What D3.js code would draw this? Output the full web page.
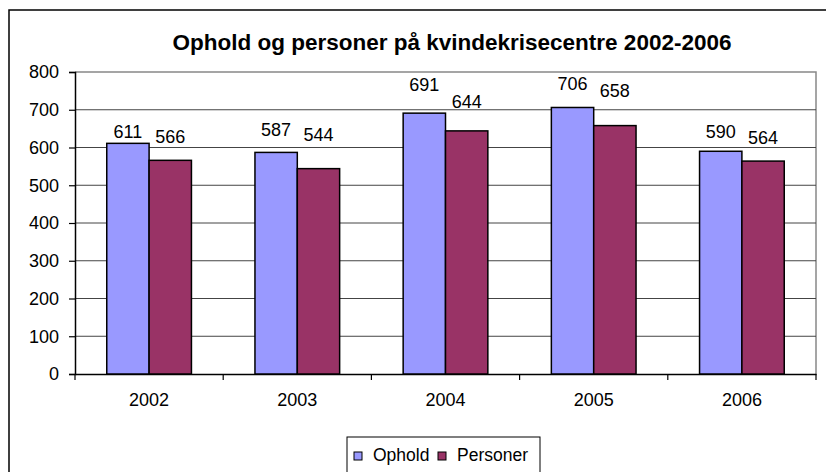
<!DOCTYPE html>
<html>
<head>
<meta charset="utf-8">
<script src="https://cdn.jsdelivr.net/npm/d3@7"></script>
<style>
  body { margin: 0; background: #fff; }
  svg text { font-family: "Liberation Sans", Arial, sans-serif; fill: #000; }
</style>
</head>
<body>
<div id="chart"></div>
<script>
// data
var years = ["2002", "2003", "2004", "2005", "2006"];
var seriesNames = ["Ophold", "Personer"];
var ophold = [611, 587, 691, 706, 590];
var personer = [566, 544, 644, 658, 564];
var yTicks = [0, 100, 200, 300, 400, 500, 600, 700, 800];
var colors = ["#9999ff", "#993366"];

// how far each value label sits above its bar (px), as placed in the original
var labelLift = [[12, 24], [23, 34], [29, 29], [24, 35], [20, 24]];

var width = 826, height = 472;
var plot = {left: 75, right: 816, top: 72, bottom: 374};

var svg = d3.select("#chart")
  .append("svg")
  .attr("width", width)
  .attr("height", height);

// outer frame
svg.append("rect")
  .attr("x", 9).attr("y", 10)
  .attr("width", 830).attr("height", 480)
  .attr("fill", "#fff")
  .attr("stroke", "#000")
  .attr("stroke-width", 1.5);

// title
svg.append("text")
  .attr("x", 452).attr("y", 50)
  .attr("text-anchor", "middle")
  .style("font-size", "22.5px")
  .style("font-weight", "bold")
  .text("Ophold og personer på kvindekrisecentre 2002-2006");

var x = d3.scaleBand()
  .domain(years)
  .range([plot.left, plot.right]);

var w = x.bandwidth() / 3.5;

var y = d3.scaleLinear()
  .domain([0, 800])
  .range([plot.bottom, plot.top]);

// plot area border (top/right)
svg.append("path")
  .attr("d", "M" + plot.left + "," + plot.top + "H" + plot.right + "V" + plot.bottom)
  .attr("fill", "none")
  .attr("stroke", "#888")
  .attr("stroke-width", 1.5);

// gridlines
svg.append("g")
  .selectAll("line")
  .data(yTicks.filter(function(d) { return d > 0 && d < 800; }))
  .enter()
  .append("line")
  .attr("x1", plot.left).attr("x2", plot.right)
  .attr("y1", function(d) { return y(d); })
  .attr("y2", function(d) { return y(d); })
  .attr("stroke", "#444")
  .attr("stroke-width", 1);

// Y axis
var yAxis = svg.append("g")
  .attr("transform", "translate(" + plot.left + ",0)")
  .call(d3.axisLeft(y).tickValues(yTicks).tickSize(6).tickPadding(10));
yAxis.select(".domain").attr("stroke", "#000").attr("stroke-width", 1.5);
yAxis.selectAll(".tick line").attr("stroke", "#000").attr("stroke-width", 1.2);
yAxis.selectAll("text").style("font-size", "18px").attr("font-family", null);

// X axis
var xAxis = svg.append("g")
  .attr("transform", "translate(0," + plot.bottom + ")")
  .call(d3.axisBottom(x).tickSize(0).tickPadding(19));
xAxis.select(".domain").attr("stroke", "#000").attr("stroke-width", 1.5);
xAxis.selectAll("text").style("font-size", "18px").attr("font-family", null);
xAxis.selectAll("tickmark")
  .data(d3.range(years.length + 1))
  .enter()
  .append("line")
  .attr("x1", function(i) { return plot.left + i * x.step(); })
  .attr("x2", function(i) { return plot.left + i * x.step(); })
  .attr("y1", 0).attr("y2", 6)
  .attr("stroke", "#000")
  .attr("stroke-width", 1.2);

// bars
var combined = years.map(function(yr, i) {
  return {year: yr, values: [ophold[i], personer[i]], lift: labelLift[i]};
});

var groups = svg.selectAll("g.grp")
  .data(combined)
  .enter()
  .append("g")
  .attr("class", "grp");

function items(d) {
  return d.values.map(function(v, j) { return {year: d.year, v: v, j: j, lift: d.lift[j]}; });
}

groups.selectAll("rect")
  .data(items)
  .enter()
  .append("rect")
  .attr("x", function(d) { return x(d.year) + x.bandwidth() / 2 - w + d.j * w; })
  .attr("y", function(d) { return y(d.v); })
  .attr("width", w)
  .attr("height", function(d) { return y(0) - y(d.v); })
  .attr("fill", function(d) { return colors[d.j]; })
  .attr("stroke", "#000")
  .attr("stroke-width", 1.5);

// value labels
groups.selectAll("text")
  .data(items)
  .enter()
  .append("text")
  .attr("x", function(d) { return x(d.year) + x.bandwidth() / 2 - w + d.j * w + w / 2; })
  .attr("y", function(d) { return y(d.v) - d.lift + 6.5; })
  .attr("text-anchor", "middle")
  .style("font-size", "18px")
  .text(function(d) { return d.v; });

// legend
var legend = svg.append("g");
legend.append("rect")
  .attr("x", 347).attr("y", 437)
  .attr("width", 193).attr("height", 60)
  .attr("fill", "#fff")
  .attr("stroke", "#000")
  .attr("stroke-width", 1);

var legX = [354, 438];
seriesNames.forEach(function(name, i) {
  legend.append("rect")
    .attr("x", legX[i]).attr("y", 452)
    .attr("width", 8).attr("height", 8)
    .attr("fill", colors[i])
    .attr("stroke", "#000")
    .attr("stroke-width", 1);
  legend.append("text")
    .attr("x", legX[i] + 19).attr("y", 461)
    .style("font-size", "17.5px")
    .text(name);
});
</script>
</body>
</html>
